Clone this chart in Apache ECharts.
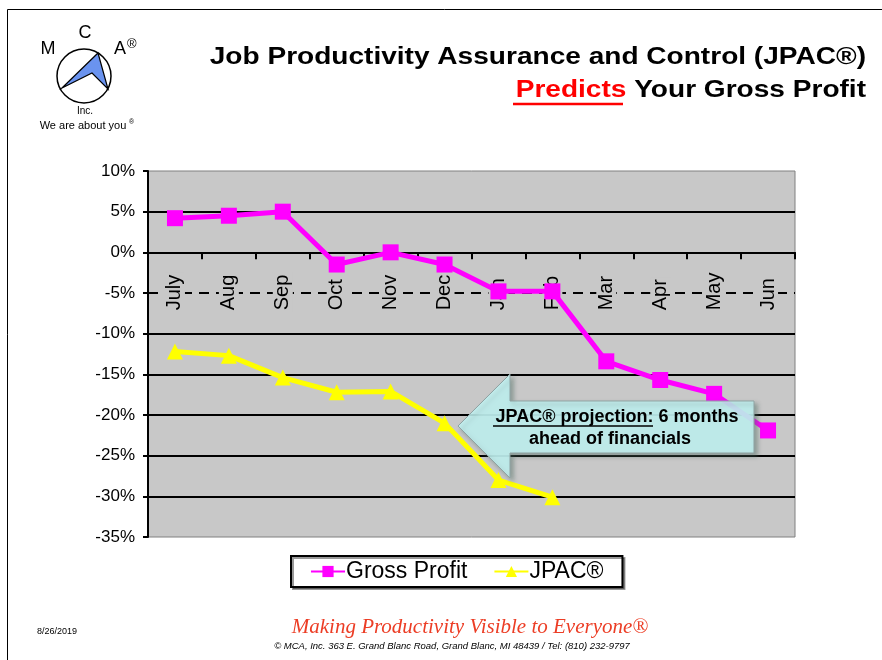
<!DOCTYPE html>
<html>
<head>
<meta charset="utf-8">
<title>JPAC Predicts Your Gross Profit</title>
<script src="https://cdn.jsdelivr.net/npm/echarts@6/dist/echarts.min.js"></script>
<style>
  html, body { margin: 0; padding: 0; background: #fff; }
  #chart { width: 882px; height: 660px; }
</style>
</head>
<body>
<div id="chart"></div>
<script>
// 月份 (财年从 7 月开始)
const months = ['July', 'Aug', 'Sep', 'Oct', 'Nov', 'Dec', 'Jan', 'Feb', 'Mar', 'Apr', 'May', 'Jun'];
// 毛利 (%)
const grossProfit = [4.2, 4.5, 5.0, -1.5, 0.0, -1.5, -4.8, -4.8, -13.4, -15.7, -17.4, -21.9];
// JPAC 预测 (%)，只到 Feb
const jpac = [-12.2, -12.7, -15.4, -17.2, -17.1, -21.0, -28.0, -30.1];
// 网格线
const solidLines = [5, 0, -10, -15, -20, -25, -30];
const dashedLines = [-5];

const FONT = 'Arial, "Liberation Sans", sans-serif';

// 绘图区位置
const GRID = { left: 148, right: 87, top: 171, bottom: 123 };
const Y_MIN = -35;
const Y_MAX = 10;
const PLOT_H = 660 - GRID.top - GRID.bottom;
// 类目轴放在 0% 处：相对底边的偏移
const X_AXIS_OFFSET = -PLOT_H * (0 - Y_MIN) / (Y_MAX - Y_MIN);

const chart = echarts.init(document.getElementById('chart'));

/**
 * 页面装饰：边框、logo、标题、箭头说明、页脚
 */
const graphics = [
  // 页面边框
  { type: 'line', shape: { x1: 7.5, y1: 9.5, x2: 882, y2: 9.5 }, style: { stroke: '#000', lineWidth: 1 } },
  { type: 'line', shape: { x1: 7.5, y1: 9.5, x2: 7.5, y2: 660 }, style: { stroke: '#000', lineWidth: 1 } },

  // logo
  { type: 'circle', shape: { cx: 84, cy: 76, r: 27 }, style: { fill: '#fff', stroke: '#000', lineWidth: 1.5 } },
  {
    type: 'polygon',
    shape: { points: [[62, 88], [98, 53], [108, 89], [92, 73]] },
    style: { fill: '#6a93ef', stroke: '#000', lineWidth: 1.2 }
  },
  { type: 'text', style: { text: 'M', x: 48, y: 49, font: '18px ' + FONT, fill: '#000', align: 'center', verticalAlign: 'middle' } },
  { type: 'text', style: { text: 'C', x: 85, y: 33, font: '18px ' + FONT, fill: '#000', align: 'center', verticalAlign: 'middle' } },
  { type: 'text', style: { text: 'A', x: 120, y: 49, font: '18px ' + FONT, fill: '#000', align: 'center', verticalAlign: 'middle' } },
  { type: 'text', style: { text: '®', x: 127, y: 44, font: '13px ' + FONT, fill: '#000', align: 'left', verticalAlign: 'middle' } },
  { type: 'text', style: { text: 'Inc.', x: 85, y: 111, font: '10px ' + FONT, fill: '#000', align: 'center', verticalAlign: 'middle' } },
  { type: 'text', style: { text: 'We are about you', x: 83, y: 126, font: '11px ' + FONT, fill: '#000', align: 'center', verticalAlign: 'middle' } },
  { type: 'text', style: { text: '®', x: 129, y: 122, font: '7px ' + FONT, fill: '#000', align: 'left', verticalAlign: 'middle' } },

  // 标题 (原图字体偏宽，横向拉伸)
  {
    type: 'text',
    x: 866, y: 58, scaleX: 1.22,
    style: {
      text: 'Job Productivity Assurance and Control (JPAC®)',
      x: 0, y: 0, font: 'bold 23px ' + FONT, fill: '#000', align: 'right', verticalAlign: 'middle'
    }
  },
  {
    type: 'text',
    x: 866, y: 91, scaleX: 1.22,
    style: {
      text: '{r|Predicts} Your Gross Profit',
      x: 0, y: 0, font: 'bold 23px ' + FONT, fill: '#000', align: 'right', verticalAlign: 'middle',
      rich: { r: { fill: '#ff0000', font: 'bold 23px ' + FONT } }
    }
  },
  { type: 'line', shape: { x1: 513, y1: 104, x2: 623, y2: 104 }, style: { stroke: '#ff0000', lineWidth: 2.5 } },

  // 箭头说明
  {
    type: 'polygon',
    z: 100,
    shape: { points: [[458, 426], [510, 374], [510, 401], [754, 401], [754, 453], [510, 453], [510, 478]] },
    style: {
      fill: 'rgba(196, 244, 244, 0.88)', stroke: '#8fa3a3', lineWidth: 1,
      shadowColor: 'rgba(80, 110, 100, 0.55)', shadowBlur: 4, shadowOffsetX: 3, shadowOffsetY: 3
    }
  },
  {
    type: 'text', z: 101,
    style: { text: 'JPAC® projection: 6 months', x: 617, y: 417, font: 'bold 18px ' + FONT, fill: '#000', align: 'center', verticalAlign: 'middle' }
  },
  {
    type: 'text', z: 101,
    style: { text: 'ahead of financials', x: 610, y: 439, font: 'bold 18px ' + FONT, fill: '#000', align: 'center', verticalAlign: 'middle' }
  },
  { type: 'line', z: 101, shape: { x1: 493, y1: 426, x2: 653, y2: 426 }, style: { stroke: '#000', lineWidth: 1.5 } },

  // 页脚
  { type: 'text', style: { text: '8/26/2019', x: 57, y: 632, font: '9px ' + FONT, fill: '#000', align: 'center', verticalAlign: 'middle' } },
  {
    type: 'text',
    style: {
      text: 'Making Productivity Visible to Everyone®', x: 470, y: 627,
      font: 'italic 21px "Liberation Serif", "DejaVu Serif", serif', fill: '#ec3d25', align: 'center', verticalAlign: 'middle'
    }
  },
  {
    type: 'text',
    style: {
      text: '© MCA, Inc. 363 E. Grand Blanc Road, Grand Blanc, MI 48439 / Tel: (810) 232-9797', x: 452, y: 646,
      font: 'italic 9.5px ' + FONT, fill: '#000', align: 'center', verticalAlign: 'middle'
    }
  }
];

/**
 * 网格线 (用 markLine 画，-5% 为虚线)
 */
const gridLineData = solidLines
  .map(v => ({ yAxis: v, lineStyle: { color: '#000', width: 2, type: 'solid' } }))
  .concat(dashedLines.map(v => ({ yAxis: v, lineStyle: { color: '#000', width: 2, type: [10, 7] } })));

const option = {
  animation: false,
  textStyle: { fontFamily: FONT },
  grid: {
    left: GRID.left,
    right: GRID.right,
    top: GRID.top,
    bottom: GRID.bottom,
    show: true,
    backgroundColor: '#c8c8c8',
    borderColor: '#808080',
    borderWidth: 1
  },
  legend: {
    data: ['Gross Profit', 'JPAC®'],
    left: 291,
    top: 556,
    padding: [4, 19, 4, 19],
    itemGap: 26,
    itemWidth: 34,
    itemHeight: 14,
    backgroundColor: '#fff',
    borderColor: '#000',
    borderWidth: 2,
    borderRadius: 0,
    shadowColor: 'rgba(0,0,0,0.4)',
    shadowOffsetX: 2,
    shadowOffsetY: 2,
    textStyle: { fontSize: 23, color: '#000', fontFamily: FONT, padding: [0, 0, 0, -4] }
  },
  xAxis: {
    type: 'category',
    data: months,
    boundaryGap: true,
    position: 'bottom',
    offset: X_AXIS_OFFSET,
    z: 2,
    axisLine: { onZero: false, lineStyle: { color: '#000', width: 2 } },
    axisTick: { show: true, length: 7, lineStyle: { color: '#000', width: 2 } },
    // 标签从下往上读，起点对齐在 0 线下方，灰底遮住虚线
    axisLabel: {
      rotate: 90, fontSize: 20, color: '#000', margin: 60, align: 'left',
      fontFamily: FONT, interval: 0, backgroundColor: '#c8c8c8', padding: [0, 2]
    },
    splitLine: { show: false }
  },
  yAxis: {
    type: 'value',
    min: Y_MIN,
    max: Y_MAX,
    interval: 5,
    axisLine: { show: true, lineStyle: { color: '#000', width: 2 } },
    axisTick: { show: true, length: 5, lineStyle: { color: '#000', width: 2 } },
    axisLabel: { formatter: '{value}%', fontSize: 17, color: '#000', margin: 13, fontFamily: FONT },
    splitLine: { show: false }
  },
  series: [
    {
      name: 'gridlines',
      type: 'line',
      data: [],
      z: 1,
      silent: true,
      markLine: {
        z: 1,
        silent: true,
        symbol: 'none',
        label: { show: false },
        emphasis: { disabled: true },
        data: gridLineData
      }
    },
    {
      name: 'Gross Profit',
      type: 'line',
      data: grossProfit,
      z: 3,
      color: '#ff00ff',
      symbol: 'rect',
      symbolSize: 16,
      lineStyle: { color: '#ff00ff', width: 5 },
      itemStyle: { color: '#ff00ff' }
    },
    {
      name: 'JPAC®',
      type: 'line',
      data: jpac,
      z: 3,
      color: '#ffff00',
      symbol: 'triangle',
      symbolSize: 16,
      lineStyle: { color: '#ffff00', width: 5 },
      itemStyle: { color: '#ffff00' }
    }
  ],
  graphic: graphics
};

chart.setOption(option);
</script>
</body>
</html>
